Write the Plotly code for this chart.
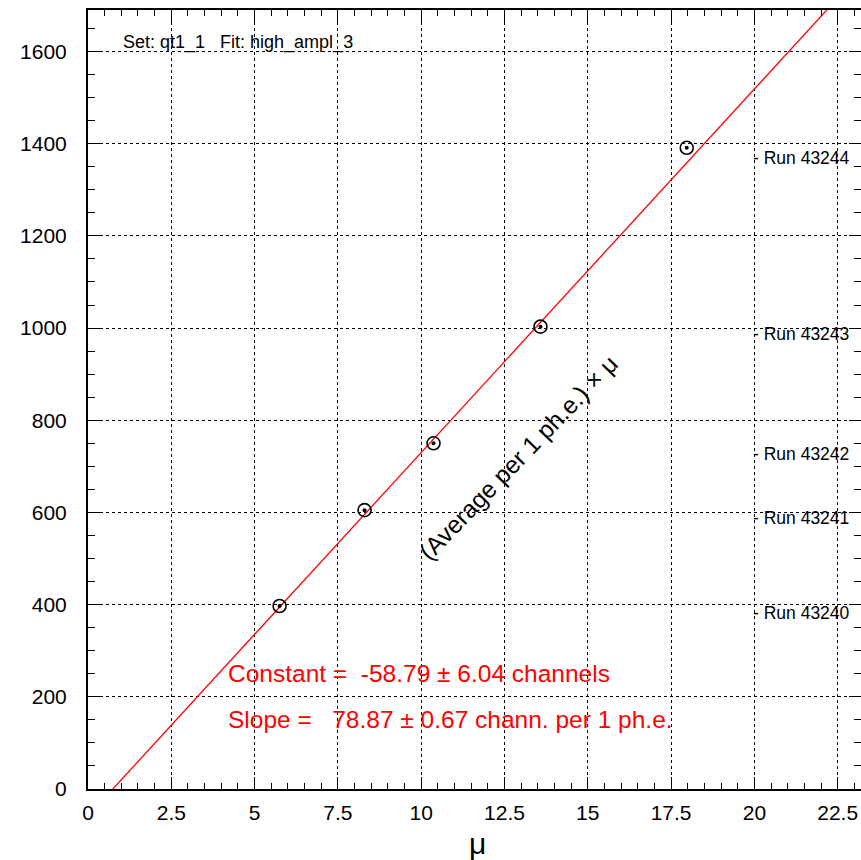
import numpy as np
import plotly.graph_objects as go

# ---- data ----
mu = [5.75, 8.3, 10.37, 13.58, 17.97]
amplitude = [397, 605, 750, 1003, 1391]
run_labels = ["Run 43240", "Run 43241", "Run 43242", "Run 43243", "Run 43244"]
run_label_y = [381, 587, 727, 987, 1370]
fit_constant = -58.79
fit_constant_err = 6.04
fit_slope = 78.87
fit_slope_err = 0.67
x_range = [0, 23.2]
y_range = [0, 1690]
x_tickvals = [0, 2.5, 5, 7.5, 10, 12.5, 15, 17.5, 20, 22.5]
x_ticktext = ["0", "2.5", "5", "7.5", "10", "12.5", "15", "17.5", "20", "22.5"]
y_tickvals = [0, 200, 400, 600, 800, 1000, 1200, 1400, 1600]

FONT = "Liberation Sans, Arial, Helvetica, sans-serif"

fig = go.Figure()

# fit line
fx = np.array(x_range, dtype=float)
fy = fit_constant + fit_slope * fx
fig.add_trace(go.Scatter(x=fx, y=fy, mode="lines",
                         line=dict(color="red", width=1.3),
                         hoverinfo="skip", showlegend=False))

# data points: open circle + centre dot
fig.add_trace(go.Scatter(x=mu, y=amplitude, mode="markers",
                         marker=dict(symbol="circle-open", size=13,
                                     color="black", line=dict(color="black", width=1.6)),
                         showlegend=False))
fig.add_trace(go.Scatter(x=mu, y=amplitude, mode="markers",
                         marker=dict(symbol="circle", size=4, color="black"),
                         hoverinfo="skip", showlegend=False))

# helper trace for mirrored top/right axes (invisible)
fig.add_trace(go.Scatter(x=fx, y=fy, mode="lines", xaxis="x2", yaxis="y2",
                         line=dict(color="rgba(0,0,0,0)", width=0),
                         hoverinfo="skip", showlegend=False))

annotations = []
annotations.append(dict(x=1.0, y=1620, xref="x", yref="y", text="Set: qt1_1   Fit: high_ampl_3",
                        showarrow=False, xanchor="left", yanchor="middle",
                        font=dict(family=FONT, size=18, color="black")))
for lab, yy in zip(run_labels, run_label_y):
    annotations.append(dict(x=19.9, y=yy, xref="x", yref="y", text="- " + lab,
                            showarrow=False, xanchor="left", yanchor="middle",
                            font=dict(family=FONT, size=17.5, color="black")))
annotations.append(dict(x=4.15, y=251, xref="x", yref="y",
                        text=f"Constant =  {fit_constant:.2f} \u00b1 {fit_constant_err:.2f} channels",
                        showarrow=False, xanchor="left", yanchor="middle",
                        font=dict(family=FONT, size=24.5, color="red")))
annotations.append(dict(x=4.15, y=150, xref="x", yref="y",
                        text=f"Slope =   {fit_slope:.2f} \u00b1 {fit_slope_err:.2f} chann. per 1 ph.e.",
                        showarrow=False, xanchor="left", yanchor="middle",
                        font=dict(family=FONT, size=24.5, color="red")))
annotations.append(dict(x=12.93, y=719, xref="x", yref="y",
                        text="(Average per 1 ph.e.) \u00d7 \u03bc",
                        showarrow=False, textangle=-46,
                        font=dict(family=FONT, size=24.5, color="black")))
# x-axis title
annotations.append(dict(x=11.7, y=-0.0706, xref="x", yref="paper", text="\u03bc",
                        showarrow=False, xanchor="center", yanchor="middle",
                        font=dict(family=FONT, size=30, color="black")))

axis_common = dict(showline=True, linecolor="black", linewidth=2,
                   ticks="inside", ticklen=12, tickwidth=1, tickcolor="black",
                   zeroline=False,
                   tickfont=dict(family=FONT, size=21, color="black"))

fig.update_layout(
    width=861, height=860,
    margin=dict(l=88, r=0, t=10, b=71),
    paper_bgcolor="white", plot_bgcolor="white",
    showlegend=False,
    annotations=annotations,
    xaxis=dict(range=x_range, tickmode="array", tickvals=x_tickvals, ticktext=x_ticktext,
               minor=dict(ticks="inside", dtick=0.5, ticklen=6, tickcolor="black", showgrid=False),
               showgrid=True, gridcolor="black", gridwidth=1, griddash="dot",
               ticklabelstandoff=4,
               **axis_common),
    yaxis=dict(range=y_range, tickmode="array", tickvals=y_tickvals,
               minor=dict(ticks="inside", dtick=50, ticklen=7, tickcolor="black", showgrid=False),
               showgrid=True, gridcolor="black", gridwidth=1, griddash="dot",
               ticklabelstandoff=15,
               **axis_common),
    xaxis2=dict(range=x_range, overlaying="x", side="top", tickmode="array", tickvals=x_tickvals,
                showticklabels=False, showgrid=False,
                minor=dict(ticks="inside", dtick=0.5, ticklen=6, tickcolor="black", showgrid=False),
                **axis_common),
    yaxis2=dict(range=y_range, overlaying="y", side="right", tickmode="array", tickvals=y_tickvals,
                showticklabels=False, showgrid=False,
                minor=dict(ticks="inside", dtick=50, ticklen=7, tickcolor="black", showgrid=False),
                **axis_common),
)

fig.write_html("out.html")
